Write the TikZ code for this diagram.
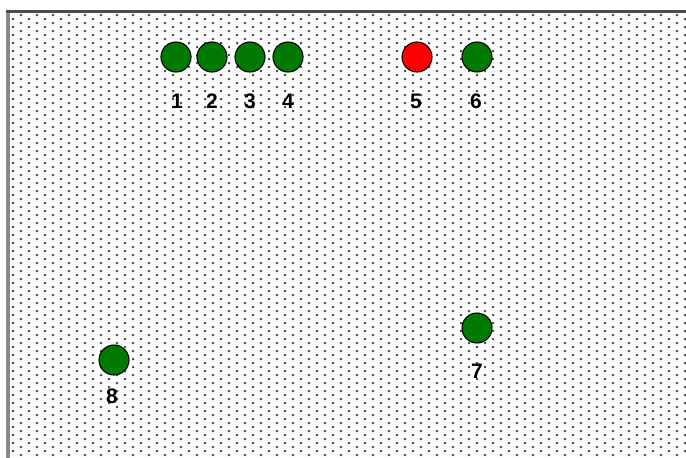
\documentclass[tikz,border=0pt]{standalone}
\usepackage{fontspec}
\setmainfont{Liberation Sans}
\definecolor{lampgreen}{HTML}{007A00}
\definecolor{lampred}{HTML}{FF0000}
\definecolor{dotc}{HTML}{4F4F4F}
\definecolor{leftframe}{HTML}{8A8A8A}
\definecolor{topframe}{HTML}{4A4A4A}
\begin{document}
\begin{tikzpicture}[x=1pt,y=-1pt,
  lamp/.style={circle,draw=black,line width=1.1pt,minimum size=30pt,inner sep=0pt},
  greenlamp/.style={lamp,fill=lampgreen},
  redlamp/.style={lamp,fill=lampred},
  lbl/.style={inner sep=0pt,font=\fontsize{21}{21}\selectfont\bfseries}]
\useasboundingbox (0,0) rectangle (686,458);
\fill[white] (0,0) rectangle (686,458);
% dotted field
\begin{scope}
\clip (9,12.5) rectangle (686,458);
\fill[dotc] \foreach \i in {0,...,42} {\foreach \j in {0,...,57} {
  (4+16*\i,6+8*\j) rectangle ++(2.2,2.2)
  (12+16*\i,2+8*\j) rectangle ++(2.2,2.2)}};
\end{scope}
% frame
\fill[leftframe] (6,10) rectangle (9.5,458);
\fill[topframe] (6,10) rectangle (686,12.5);
% lamps
\node[greenlamp] (c1) at (176,57) {};
\node[greenlamp] (c2) at (212,57) {};
\node[greenlamp] (c3) at (250,57) {};
\node[greenlamp] (c4) at (288,57) {};
\node[redlamp]   (c5) at (417,57) {};
\node[greenlamp] (c6) at (477,57) {};
\node[greenlamp] (c7) at (477,328) {};
\node[greenlamp] (c8) at (114,360) {};
% labels
\node[lbl] (l1) at (177,101) {1};
\node[lbl] (l2) at (212,101) {2};
\node[lbl] (l3) at (250,101) {3};
\node[lbl] (l4) at (288,101) {4};
\node[lbl] (l5) at (416,101) {5};
\node[lbl] (l6) at (476,101) {6};
\node[lbl] (l7) at (477,371) {7};
\node[lbl] (l8) at (112,396) {8};
\end{tikzpicture}
\end{document}
